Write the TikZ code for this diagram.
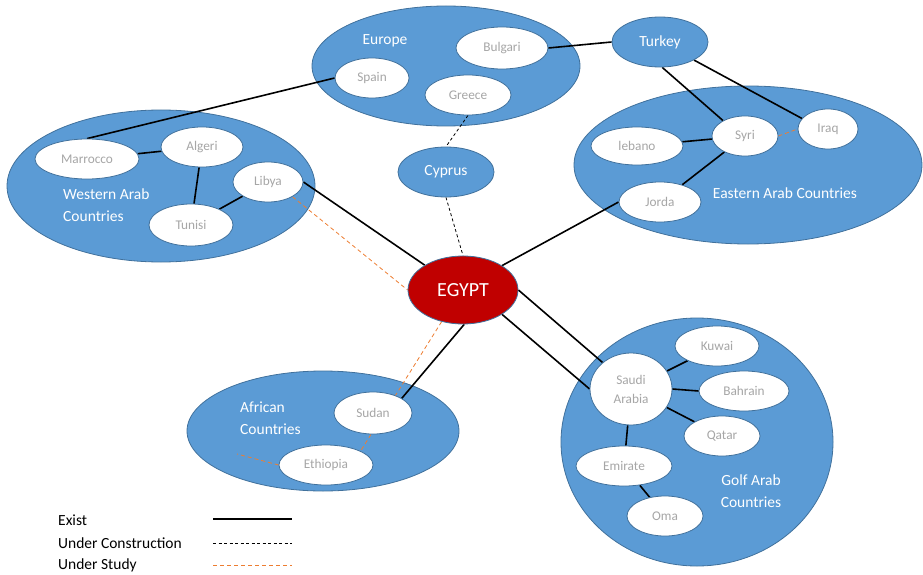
\documentclass[tikz,border=0pt]{standalone}
\usepackage{fontspec}
\setmainfont{Carlito}
\usetikzlibrary{shapes.geometric}
\definecolor{grpblue}{HTML}{5B9BD5}
\definecolor{edgeblue}{HTML}{41719C}
\definecolor{egred}{HTML}{C00000}
\definecolor{txtgrey}{HTML}{A6A6A6}
\definecolor{studyorange}{HTML}{ED7D31}
\pgfdeclarelayer{bg}
\pgfdeclarelayer{lines}
\pgfsetlayers{bg,lines,main}
\begin{document}
\begin{tikzpicture}[x=1pt,y=-1pt,
 grp/.style={ellipse, draw=edgeblue, line width=0.8pt, fill=grpblue, inner sep=0pt},
 cnode/.style={ellipse, draw=edgeblue, line width=0.8pt, fill=white, inner sep=0pt, text=txtgrey, font=\fontsize{13.3}{15}\selectfont},
 solo/.style={grp, text=white, font=\fontsize{15.5}{18}\selectfont},
 glabel/.style={text=white, font=\fontsize{15.5}{22}\selectfont, inner sep=0pt},
 legtext/.style={text=black, font=\fontsize{15.5}{18}\selectfont, inner sep=0pt, anchor=west},
 exist/.style={line width=1.6pt, black},
 constr/.style={line width=0.8pt, black, dash pattern=on 3pt off 2.5pt},
 study/.style={line width=0.8pt, studyorange, dash pattern=on 4pt off 3pt},
 ]
\useasboundingbox (0,0) rectangle (923,575);

% group ellipses
\begin{pgfonlayer}{bg}
\node[grp, minimum width=268pt, minimum height=120pt] (europe) at (446,66) {};
\node[grp, minimum width=308pt, minimum height=152pt] (western) at (161,186) {};
\node[grp, minimum width=348pt, minimum height=158pt] (eastern) at (748,165) {};
\node[grp, minimum width=272pt, minimum height=120pt] (african) at (323,431) {};
\node[grp, minimum width=272pt, minimum height=248pt] (golf) at (697,442) {};
\end{pgfonlayer}

% group labels
\node[glabel] (europelbl) at (385,41) {Europe};
\node[glabel, anchor=west, align=left] (westlbl) at (63,205) {Western Arab\\Countries};
\node[glabel] (eastlbl) at (785,193) {Eastern Arab Countries};
\node[glabel, anchor=west, align=left] (aflbl) at (240,418) {African\\Countries};
\node[glabel, align=center] (golflbl) at (751,491) {Golf Arab\\Countries};

% stand-alone nodes
\node[solo, minimum width=96pt, minimum height=50pt] (turkey) at (660,42) {Turkey};
\node[solo, minimum width=96pt, minimum height=50pt] (cyprus) at (446,172) {Cyprus};
\node[ellipse, draw=edgeblue, line width=0.8pt, fill=egred, text=white, inner sep=0pt,
      font=\fontsize{20}{24}\selectfont, minimum width=110pt, minimum height=68pt] (egypt) at (463,290) {EGYPT};

% country nodes
\node[cnode, minimum width=92pt, minimum height=42pt] (bulgari) at (502,48) {Bulgari};
\node[cnode, minimum width=74pt, minimum height=40pt] (spain) at (372,78) {Spain};
\node[cnode, minimum width=86pt, minimum height=40pt] (greece) at (468,95) {Greece};

\node[cnode, minimum width=104pt, minimum height=40pt] (marrocco) at (87,159) {Marrocco};
\node[cnode, minimum width=82pt, minimum height=40pt] (algeri) at (202,147) {Algeri};
\node[cnode, minimum width=70pt, minimum height=40pt] (libya) at (268,182) {Libya};
\node[cnode, minimum width=84pt, minimum height=42pt] (tunisi) at (191,225) {Tunisi};

\node[cnode, minimum width=92pt, minimum height=38pt] (lebano) at (637,146) {lebano};
\node[cnode, minimum width=66pt, minimum height=40pt] (syri) at (745,136) {Syri};
\node[cnode, minimum width=60pt, minimum height=40pt] (iraq) at (828,129) {Iraq};
\node[cnode, minimum width=82pt, minimum height=40pt] (jorda) at (660,202) {Jorda};

\node[cnode, minimum width=78pt, minimum height=42pt] (sudan) at (373,413) {Sudan};
\node[cnode, minimum width=94pt, minimum height=40pt] (ethiopia) at (326,465) {Ethiopia};

\node[cnode, minimum width=82pt, minimum height=72pt, align=center, font=\fontsize{13.3}{19}\selectfont] (saudi) at (631,389) {Saudi\\Arabia};
\node[cnode, minimum width=84pt, minimum height=40pt] (kuwai) at (717,346) {Kuwai};
\node[cnode, minimum width=90pt, minimum height=40pt] (bahrain) at (744,391) {Bahrain};
\node[cnode, minimum width=76pt, minimum height=40pt] (qatar) at (722,436) {Qatar};
\node[cnode, minimum width=96pt, minimum height=40pt] (emirate) at (624,466) {Emirate};
\node[cnode, minimum width=76pt, minimum height=40pt] (oma) at (665,516) {Oma};

% legend
\node[legtext] (lexist) at (58,520) {Exist};
\node[legtext] (lconstr) at (58,543) {Under Construction};
\node[legtext] (lstudy) at (58,565) {Under Study};
\coordinate (le1) at (213,519);
\coordinate (le2) at (292,519);
\coordinate (lc1) at (213,543);
\coordinate (lc2) at (292,543);
\coordinate (ls1) at (213,565);
\coordinate (ls2) at (292,565);
\coordinate (ethfree) at (237,454);

\begin{pgfonlayer}{lines}
% existing links
\draw[exist] (marrocco.north) -- (spain.west);
\draw[exist] (marrocco) -- (algeri);
\draw[exist] (algeri) -- (tunisi);
\draw[exist] (tunisi) -- (libya);
\draw[exist] (libya.east) -- (egypt.147);
\draw[exist] (bulgari.east) -- (turkey.west);
\draw[exist] (turkey.-85) -- (syri.145);
\draw[exist] (turkey.-28) -- (iraq.158);
\draw[exist] (lebano) -- (syri);
\draw[exist] (syri) -- (jorda);
\draw[exist] (jorda.west) -- (egypt.32);
\draw[exist] (egypt.east) -- (saudi.137);
\draw[exist] (egypt.-32) -- (saudi.west);
\draw[exist] (egypt.-88) -- (sudan.27);
\draw[exist] (saudi) -- (kuwai);
\draw[exist] (saudi.east) -- (bahrain.west);
\draw[exist] (saudi) -- (qatar);
\draw[exist] (saudi) -- (emirate);
\draw[exist] (emirate) -- (oma);
% under construction
\draw[constr] (greece.south) -- (cyprus.north);
\draw[constr] (cyprus.south) -- (egypt.north);
% under study
\draw[study] (libya.-31) -- (egypt.west);
\draw[study] (syri.east) -- (iraq.west);
\draw[study] (egypt.236) -- (ethiopia.22);
\draw[study] (ethiopia.west) -- (ethfree);
% legend lines
\draw[exist] (le1) -- (le2);
\draw[constr] (lc1) -- (lc2);
\draw[study] (ls1) -- (ls2);
\end{pgfonlayer}
\end{tikzpicture}
\end{document}
